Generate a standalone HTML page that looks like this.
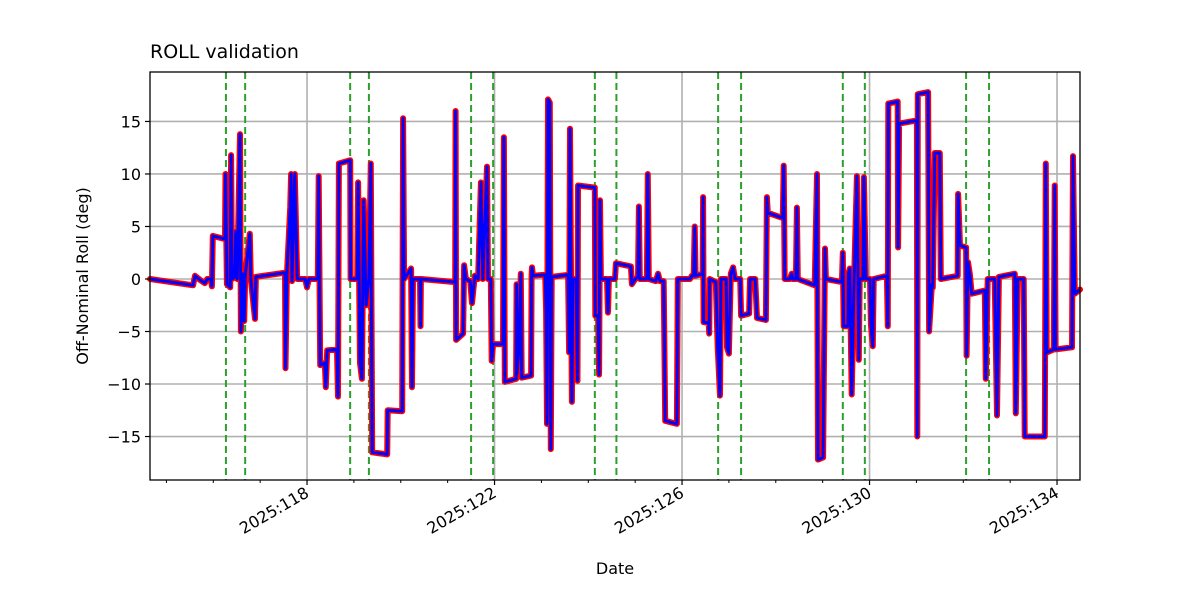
<!DOCTYPE html>
<html><head><meta charset="utf-8"><style>
body{margin:0;background:#fff;}
svg{display:block;font-family:"DejaVu Sans","Liberation Sans",sans-serif;}
</style></head><body>
<svg id="chart" width="1200" height="600" xmlns="http://www.w3.org/2000/svg">
<rect width="1200" height="600" fill="#fff"/>
<g id="grid"></g>
<g id="vlines"></g>
<g id="series"></g>
<rect x="150" y="72" width="930" height="408" fill="none" stroke="#000" stroke-width="1.3"/>
<g id="axes"></g>
<text x="150" y="58" font-size="19">ROLL validation</text>
<text x="615" y="574" font-size="16" text-anchor="middle">Date</text>
<text transform="translate(88,276) rotate(-90)" font-size="16" text-anchor="middle">Off-Nominal Roll (deg)</text>
</svg>
<script>
const days=[114.65,115.57,115.61,115.72,115.82,115.87,115.95,115.97,115.99,116.25,116.26,116.29,116.36,116.38,116.40,116.46,116.48,116.51,116.57,116.59,116.63,116.66,116.68,116.78,116.80,116.89,116.91,117.53,117.54,117.57,117.64,117.66,117.68,117.74,117.79,117.96,118.00,118.04,118.23,118.25,118.28,118.38,118.40,118.43,118.64,118.66,118.68,118.92,118.93,119.07,119.09,119.13,119.17,119.21,119.26,119.32,119.36,119.39,119.71,119.72,120.03,120.05,120.07,120.22,120.24,120.26,120.41,120.42,120.43,121.16,121.17,121.18,121.33,121.35,121.39,121.48,121.52,121.58,121.65,121.71,121.75,121.84,121.86,121.92,121.94,121.97,122.18,122.20,122.22,122.46,122.47,122.48,122.52,122.56,122.58,122.78,122.79,122.80,122.82,123.08,123.10,123.12,123.14,123.18,123.20,123.22,123.57,123.59,123.61,123.65,123.67,123.74,123.77,123.78,124.14,124.15,124.21,124.23,124.25,124.27,124.40,124.42,124.44,124.57,124.59,124.91,124.93,125.00,125.06,125.08,125.10,125.25,125.27,125.29,125.44,125.49,125.53,125.61,125.64,125.89,125.91,126.17,126.21,126.25,126.27,126.29,126.44,126.45,126.46,126.57,126.58,126.59,126.72,126.76,126.81,126.83,126.94,126.96,127.00,127.04,127.09,127.13,127.24,127.26,127.43,127.45,127.56,127.60,127.79,127.81,127.83,128.15,128.17,128.19,128.30,128.34,128.36,128.43,128.45,128.47,128.83,128.88,128.90,129.01,129.05,129.07,129.41,129.43,129.45,129.54,129.55,129.58,129.62,129.67,129.73,129.77,129.79,129.86,129.88,129.92,130.01,130.03,130.07,130.09,130.37,130.39,130.40,130.60,130.61,130.63,131.01,131.02,131.03,131.25,131.27,131.33,131.35,131.39,131.50,131.52,131.88,131.89,131.93,132.06,132.07,132.10,132.14,132.18,132.46,132.48,132.52,132.67,132.72,132.76,133.10,133.12,133.16,133.29,133.31,133.74,133.76,133.78,133.93,133.95,133.97,134.32,134.34,134.38,134.49];
const roll=[0,-0.6,0.3,-0.1,-0.4,0,0,-0.7,4.1,3.8,10,-0.5,-0.8,11.8,0,0.2,4.5,0,13.8,-5,0.5,-4,0.3,4.3,0,-3.8,0.2,0.6,-8.5,0.4,6.8,10,-0.2,10,0,0,-0.8,0,0,9.8,-8.2,-8,-10.3,-6.8,-6.7,-11.2,11,11.3,0,0,9.2,-8,-9.5,7.5,-2.5,0,11,-16.5,-16.7,-12.5,-12.6,15.3,0,1,-10.3,0,0,-4.5,0,-0.3,16,-5.8,-5.2,1.3,0,-0.2,-2.3,0.3,0,9.2,0,10.7,0,0,-7.8,-6.2,-6.2,13.5,-9.8,-9.5,-0.5,-9,-6.7,0.5,-9.4,-9.2,0.3,1.1,0.3,0.4,-3,-13.8,17.1,16.8,-16.2,0.2,0.4,-7,14.3,-11.7,0,0,-9.7,8.9,8.7,-3.5,-3.5,-9.1,7.5,0,0,-3.2,0,0,1.5,1.2,-0.5,0,0.2,6.9,0,0,10,0,-0.2,0.5,-0.2,-0.2,-13.5,-13.8,0,0,0.3,0.3,5,0.3,0.5,7.8,-4.1,-4.2,-5.2,0,-0.3,-6.5,-11.1,0,0,-6.5,-7.1,0.5,1.1,0,0,-3.5,-3.3,0,0,-3.7,-3.9,7.8,6.3,5.8,10.8,0,0,0.5,0,0,6.8,0,-0.6,10,-17.2,-17,2.9,0,-0.3,2.5,-4.5,-4.5,0.5,1,-11,0,9.8,-7.7,0,0,9.7,0,0,-4.3,-6.4,0,0.3,-4.5,16.7,16.9,3,14.8,15.1,-15,17.6,17.8,-5,-0.5,-0.8,12,12,0,0.3,8.1,3.2,3,-7.3,1.6,0.5,-1.4,-1.1,-9.5,0,0,-13,0.2,0.5,-12.8,0,0,-15,-15,11,-7,-6.7,8.9,-6.7,-6.5,11.7,-1.4,-1];
const eventDays=[116.27,116.68,118.92,119.32,121.50,121.97,124.14,124.60,126.77,127.26,129.43,129.90,132.06,132.55];
const xTicks=[118,122,126,130,134];
const xTickLabels=["2025:118","2025:122","2025:126","2025:130","2025:134"];
const yTicks=[-15,-10,-5,0,5,10,15];
const xMin=114.65,xMax=134.49,yMin=-19.14,yMax=19.71;
const L=150,R=1080,T=72,B=480;
const NS="http://www.w3.org/2000/svg";
function sx(d){return L+(d-xMin)/(xMax-xMin)*(R-L);}
function sy(v){return B-(v-yMin)/(yMax-yMin)*(B-T);}
function mk(tag,attrs,parent){const e=document.createElementNS(NS,tag);for(const k in attrs)e.setAttribute(k,attrs[k]);parent.appendChild(e);return e;}
const grid=document.getElementById('grid'),axes=document.getElementById('axes'),vl=document.getElementById('vlines'),ser=document.getElementById('series');
xTicks.forEach((t,i)=>{const x=sx(t);
 const g=mk('line',{x1:x,x2:x,y1:T,y2:B,stroke:'#b0b0b0','stroke-width':1.6},grid);
 
 
 const tk=mk('line',{x1:x,x2:x,y1:B,y2:B+5,stroke:'#000','stroke-width':1.2},axes);
 
 
 const tx=mk('text',{transform:`translate(${x+3},${B+16}) rotate(-30)`,'font-size':16,'text-anchor':'end'},axes);
 tx.textContent=xTickLabels[i];
 
 
});
for(let d=Math.ceil(xMin);d<=xMax;d++){if(d%4===2)continue;const x=sx(d);
 const m=mk('line',{x1:x,x2:x,y1:B,y2:B+3,stroke:'#000','stroke-width':1},axes);
 
 
}
yTicks.forEach(t=>{const y=sy(t);
 const g=mk('line',{x1:L,x2:R,y1:y,y2:y,stroke:'#b0b0b0','stroke-width':1.6},grid);
 
 
 const tk=mk('line',{x1:L-5,x2:L,y1:y,y2:y,stroke:'#000','stroke-width':1.2},axes);
 
 
 const tx=mk('text',{x:L-9,y:y+6,'font-size':16,'text-anchor':'end'},axes);
 tx.textContent=(t<0?'\u2212'+(-t):''+t);
 
 
});
eventDays.forEach(d=>{const x=sx(d);
 const l=mk('line',{x1:x,x2:x,y1:T,y2:B,stroke:'#2ca02c','stroke-width':2,'stroke-dasharray':'7,4'},vl);
 
 
});
const pts=days.map((d,i)=>sx(d).toFixed(1)+','+sy(roll[i]).toFixed(1)).join(' ');
const red=mk('polyline',{points:pts,fill:'none',stroke:'#ff0000','stroke-width':6,'stroke-linejoin':'round','stroke-linecap':'round'},ser);


const blue=mk('polyline',{points:pts,fill:'none',stroke:'#0000ff','stroke-width':3,'stroke-linejoin':'round'},ser);


</script>
</body></html>
